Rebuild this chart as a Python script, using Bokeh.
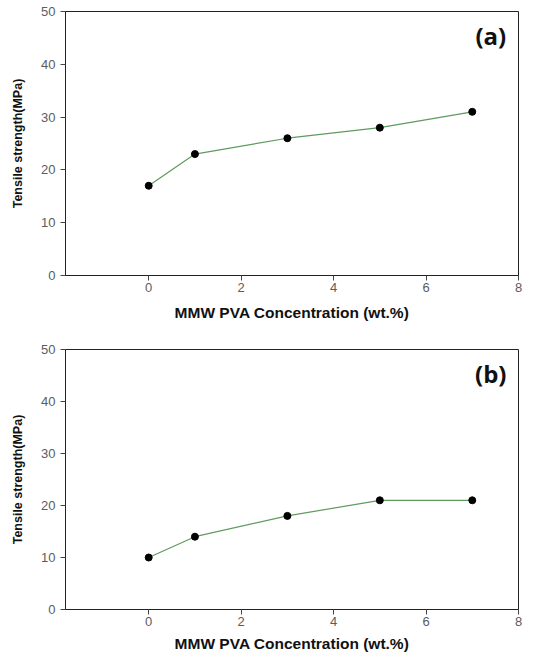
from bokeh.plotting import figure
from bokeh.layouts import column
from bokeh.models import Range1d, FixedTicker, Label
from bokeh.embed import file_html
from bokeh.resources import INLINE

# Data
conc = [0, 1, 3, 5, 7]
strength_a = [17, 23, 26, 28, 31]
strength_b = [10, 14, 18, 21, 21]
x_ticks = [0, 2, 4, 6, 8]
y_ticks = [0, 10, 20, 30, 40, 50]
panel_labels = ["(a)", "(b)"]
x_title = "MMW PVA Concentration (wt.%)"
y_title = "Tensile strength(MPa)"

LINE_COLOR = "#5f9a5f"


def make_panel(ys, label, height, top_border, bottom_border, title_standoff):
    p = figure(width=533, height=height, output_backend="svg", toolbar_location=None,
               x_range=Range1d(-1.8, 8), y_range=Range1d(0, 50),
               min_border_left=65, min_border_right=15,
               min_border_top=top_border, min_border_bottom=bottom_border)
    p.grid.visible = False
    p.outline_line_color = "#222222"
    p.outline_line_width = 1
    p.background_fill_color = "white"
    p.border_fill_color = "white"

    p.line(conc, ys, line_color=LINE_COLOR, line_width=1.2)
    p.scatter(conc, ys, size=7, fill_color="black", line_color="black")

    for ax in (p.xaxis[0], p.yaxis[0]):
        ax.axis_line_color = "#222222"
        ax.major_tick_line_color = "#444444"
        ax.major_tick_out = 5
        ax.major_tick_in = 0
        ax.minor_tick_line_color = None
        ax.major_label_text_font = "Liberation Sans"
        ax.major_label_text_font_size = "13px"
        ax.major_label_text_color = "#5c5c5c"
        ax.axis_label_text_font = "Liberation Sans"
        ax.axis_label_text_font_style = "bold"
        ax.axis_label_text_color = "#111111"

    p.xaxis.ticker = FixedTicker(ticks=x_ticks)
    p.yaxis.ticker = FixedTicker(ticks=y_ticks)
    p.xaxis.major_label_standoff = 2
    p.yaxis.major_label_standoff = 5
    p.xaxis.axis_label = x_title
    p.xaxis.axis_label_text_font_size = "15.5px"
    p.xaxis.axis_label_standoff = title_standoff
    p.yaxis.axis_label = y_title
    p.yaxis.axis_label_text_font_size = "12.5px"
    p.yaxis.axis_label_standoff = 13

    p.add_layout(Label(x=7.4, y=45.4, text=label, text_font="Open Sans",
                       text_font_size="24px", text_font_style="bold",
                       text_color="#111111",
                       text_align="center", text_baseline="middle"))
    return p


p1 = make_panel(strength_a, panel_labels[0], 325, 11, 50, 9)
p2 = make_panel(strength_b, panel_labels[1], 329, 24, 45, 6)

layout = column(p1, p2, spacing=0)
open("out.html", "w").write(file_html(layout, INLINE))
